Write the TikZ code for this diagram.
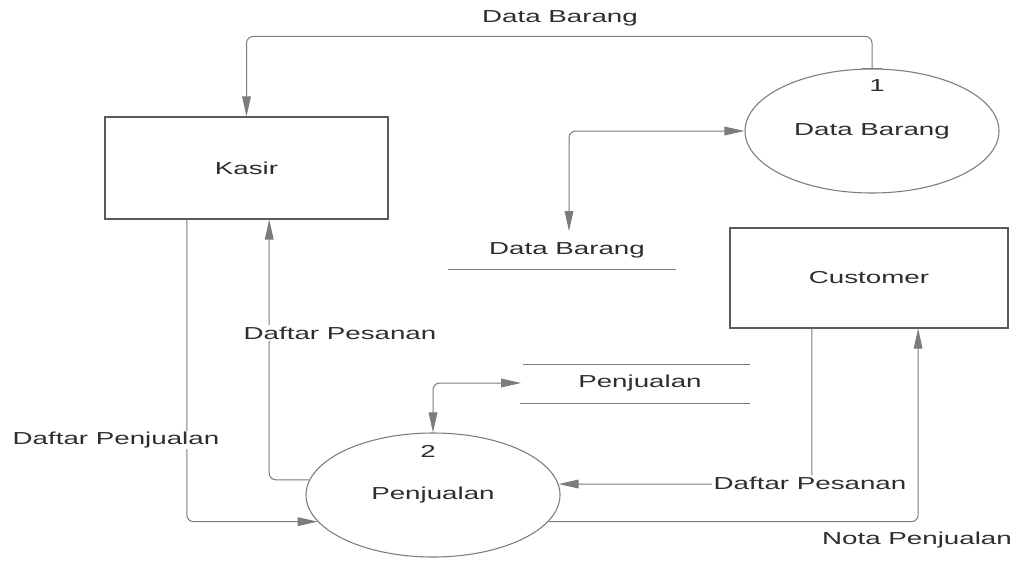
\documentclass[tikz,border=0pt]{standalone}
\usepackage{fontspec}
\usepackage{graphicx}
\setmainfont{Liberation Sans}
\usetikzlibrary{arrows.meta,calc,shapes.geometric}
\definecolor{linegray}{HTML}{7C7C7C}
\definecolor{boxgray}{HTML}{5A5A5A}
\definecolor{txtgray}{HTML}{2E2E2E}
\newcommand\wtxt[1]{\scalebox{1.6}[1]{#1}}
\begin{document}
\begin{tikzpicture}[x=0.75pt,y=-0.75pt,
  every node/.style={font=\fontsize{13pt}{15pt}\selectfont, text=txtgray},
  entity/.style={draw=boxgray, line width=0.8pt, rectangle, inner sep=0pt},
  process/.style={draw=linegray, line width=0.8pt, ellipse, inner sep=0pt, minimum width=190.5pt, minimum height=93pt},
  lbl/.style={fill=white, inner sep=1pt},
  flow/.style={draw=linegray, line width=0.75pt, rounded corners=5pt, -{Triangle[length=15pt,width=6.5pt]}},
  both/.style={draw=linegray, line width=0.75pt, rounded corners=5pt, {Triangle[length=15pt,width=6.5pt]}-{Triangle[length=15pt,width=6.5pt]}},
  storeline/.style={draw=linegray, line width=0.75pt}
]
\useasboundingbox (0,0) rectangle (1016,562);
\fill[white] (0,0) rectangle (1016,562);

% entities
\node[entity, minimum width=212.25pt, minimum height=76.5pt] (kasir) at (246.5,168) {\wtxt{Kasir}};
\node[entity, minimum width=208.5pt, minimum height=75pt] (cust) at (869,278) {\wtxt{Customer}};

% processes
\node[process] (ell1) at (872,131) {\wtxt{Data Barang}};
\node (n1) at (877,86) {\wtxt{1}};
\node[process] (ell2) at (433,495) {\wtxt{Penjualan}};
\node (n2) at (428,451) {\wtxt{2}};
\draw[storeline] ($(ell1.north)+(-10,0)$) -- ($(ell1.north)+(10,0)$);

% data stores
\node (dsB) at (567,250) {\wtxt{Data Barang}};
\draw[storeline] (448,269) -- (676,269);
\coordinate (dsBtop) at (569,231);
\node (dsP) at (640,383) {\wtxt{Penjualan}};
\draw[storeline] (523,364) -- (750,364);
\draw[storeline] (520,403) -- (750,403);
\coordinate (dsPleft) at (521,383);

% helper points
\coordinate (kasA) at ($(kasir.south west)!0.29!(kasir.south east)$);
\coordinate (kasB) at ($(kasir.south west)!0.58!(kasir.south east)$);
\coordinate (cusA) at ($(cust.south west)!0.295!(cust.south east)$);
\coordinate (cusB) at ($(cust.south west)!0.676!(cust.south east)$);

% flows
\draw[flow] (ell1.north) -- ++(0,-32) -| (kasir.north);
\node at (560,18) {\wtxt{Data Barang}};

\draw[both] (dsBtop) |- (ell1.west);

\draw[both] (dsPleft) -| (ell2.north);

\draw[flow] (ell2.173) -| (kasB);
\node[lbl] at (340,333) {\wtxt{Daftar Pesanan}};

\draw[flow] (kasA) |- (ell2.193.3);
\node[lbl] at (116,440) {\wtxt{Daftar Penjualan}};

\draw[flow] (cusA) |- (ell2.5.5);
\node[lbl] at (810,483) {\wtxt{Daftar Pesanan}};

\draw[flow] (ell2.-13.3) -| (cusB);
\node at (917,540) {\wtxt{Nota Penjualan}};
\end{tikzpicture}
\end{document}
